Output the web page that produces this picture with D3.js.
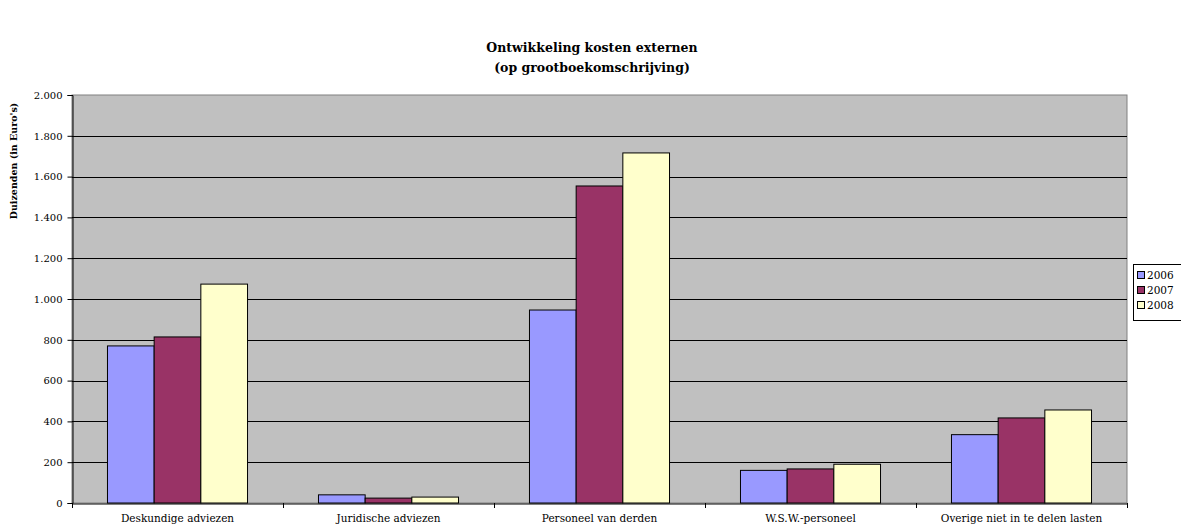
<!DOCTYPE html>
<html>
<head>
<meta charset="utf-8">
<script src="https://cdn.jsdelivr.net/npm/d3@7"></script>
<style>
  body { margin: 0; background: #fff; }
  svg { display: block; font-family: "DejaVu Serif", "Liberation Serif", serif; }
</style>
</head>
<body>
<div id="chart"></div>
<script>
// --- Data ---
const categories = ["Deskundige adviezen", "Juridische adviezen", "Personeel van derden", "W.S.W.-personeel", "Overige niet in te delen lasten"];
const years = ["2006", "2007", "2008"];
const values2006 = [770, 40, 946, 160, 335];
const values2007 = [814, 24, 1554, 167, 417];
const values2008 = [1073, 29, 1716, 190, 456];
const yTicks = [0, 200, 400, 600, 800, 1000, 1200, 1400, 1600, 1800, 2000];
const colors = ["#9999FF", "#993366", "#FFFFCC"];

const series = [values2006, values2007, values2008];
const data = categories.map((c, i) => ({ cat: c, vals: years.map((y, j) => ({ year: y, v: series[j][i] })) }));

// --- Dimensions ---
const width = 1181, height = 532;
const margin = { top: 95, right: 54, bottom: 29, left: 72 };
const fontFam = "DejaVu Serif, Liberation Serif, serif";

const svg = d3.select("#chart").append("svg")
  .attr("width", width)
  .attr("height", height);

const x = d3.scaleBand()
  .domain(categories)
  .range([margin.left, width - margin.right])
  .paddingInner(0)
  .paddingOuter(0);

const xInner = d3.scaleBand()
  .domain(years)
  .range([0, x.bandwidth()])
  .paddingInner(0)
  .paddingOuter(0.76);

const y = d3.scaleLinear()
  .domain([0, 2000])
  .range([height - margin.bottom, margin.top]);

// --- Plot background ---
svg.append("rect")
  .attr("x", margin.left)
  .attr("y", margin.top)
  .attr("width", width - margin.left - margin.right)
  .attr("height", height - margin.top - margin.bottom)
  .attr("fill", "#C0C0C0")
  .attr("stroke", "#808080")
  .attr("stroke-width", 1);

// --- Gridlines ---
svg.selectAll(".grid")
  .data(yTicks.filter(t => t > 0 && t < 2000))
  .enter()
  .append("line")
  .attr("x1", margin.left)
  .attr("x2", width - margin.right)
  .attr("y1", d => Math.round(y(d)) + 0.5)
  .attr("y2", d => Math.round(y(d)) + 0.5)
  .attr("stroke", "#000")
  .attr("stroke-width", 1);

// --- Bars ---
const groups = svg.selectAll(".cat")
  .data(data)
  .enter()
  .append("g")
  .attr("transform", d => `translate(${x(d.cat)},0)`);

groups.selectAll("rect")
  .data(d => d.vals)
  .enter()
  .append("rect")
  .attr("x", d => xInner(d.year))
  .attr("y", d => y(d.v))
  .attr("width", xInner.bandwidth())
  .attr("height", d => y(0) - y(d.v))
  .attr("fill", (d, i) => colors[i])
  .attr("stroke", "#000")
  .attr("stroke-width", 1);

// --- Y axis ---
const yAxis = svg.append("g")
  .attr("transform", `translate(${margin.left + 0.5},0)`)
  .call(d3.axisLeft(y).tickValues(yTicks).tickSize(5).tickPadding(5)
    .tickFormat(d => d3.format(",")(d).replace(/,/g, ".")));
yAxis.selectAll("text").attr("font-size", 10).attr("fill", "#000")
  .style("font-family", fontFam);
yAxis.selectAll("line, path").attr("stroke", "#000");

// --- X axis ---
const xAxis = svg.append("g")
  .attr("transform", `translate(0,${height - margin.bottom + 0.5})`)
  .call(d3.axisBottom(x).tickSize(0).tickPadding(11));
xAxis.select("path").attr("stroke", "#000");
xAxis.selectAll("text").attr("font-size", 10.5).attr("fill", "#000")
  .style("font-family", fontFam);

// category separator ticks
const bounds = categories.map(c => x(c)).concat([width - margin.right]);
svg.selectAll(".xtick")
  .data(bounds)
  .enter()
  .append("line")
  .attr("x1", d => Math.round(d) + 0.5)
  .attr("x2", d => Math.round(d) + 0.5)
  .attr("y1", height - margin.bottom)
  .attr("y2", height - margin.bottom + 5)
  .attr("stroke", "#000");

// --- Title ---
svg.append("text")
  .attr("x", 592)
  .attr("y", 52)
  .attr("text-anchor", "middle")
  .attr("font-size", 12.5)
  .attr("font-weight", "bold")
  .text("Ontwikkeling kosten externen");
svg.append("text")
  .attr("x", 592)
  .attr("y", 72)
  .attr("text-anchor", "middle")
  .attr("font-size", 12.5)
  .attr("font-weight", "bold")
  .text("(op grootboekomschrijving)");

// --- Y label ---
svg.append("text")
  .attr("transform", "translate(17,161) rotate(-90)")
  .attr("text-anchor", "middle")
  .attr("font-size", 9.5)
  .attr("font-weight", "bold")
  .text("Duizenden (in Euro's)");

// --- Legend ---
const legend = svg.append("g").attr("transform", "translate(1133,264)");
legend.append("rect")
  .attr("x", 0.5).attr("y", 0.5)
  .attr("width", 60).attr("height", 56)
  .attr("fill", "#fff").attr("stroke", "#000");
years.forEach((yr, i) => {
  legend.append("rect")
    .attr("x", 4.5).attr("y", 7.5 + i * 15)
    .attr("width", 7).attr("height", 7)
    .attr("fill", colors[i]).attr("stroke", "#000");
  legend.append("text")
    .attr("x", 14).attr("y", 15 + i * 15)
    .attr("font-size", 10.5)
    .text(yr);
});
</script>
</body>
</html>
